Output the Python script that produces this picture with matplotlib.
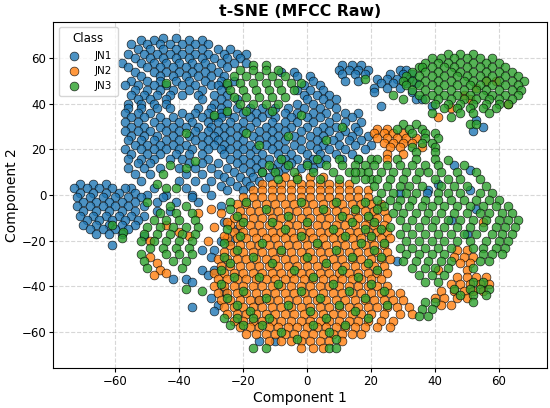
import matplotlib
matplotlib.use("Agg")
import matplotlib.pyplot as plt
import numpy as np

# points, grouped in rows: (y, [x, x, ...])
classes = ["JN1", "JN2", "JN3"]
colors = ["#1f77b4", "#ff7f0e", "#2ca02c"]

jn1_rows = [
    # top-left cluster
    (69, [-45, -41]),
    (68, [-52, -48, -37, -33]),
    (66, [-55, -50, -46, -43, -39, -35, -31]),
    (64, [-53, -49, -45, -41, -37, -33, -28, -24]),
    (62, [-56, -51, -47, -43, -39, -35, -31, -26, -22, -19]),
    (60, [-54, -49, -45, -41, -37, -33, -29, -25, -21]),
    (58, [-58, -52, -48, -44, -40, -36, -32, -27, -23, -19]),
    (56, [-56, -50, -46, -42, -38, -34, -30, -25]),
    (54, [-54, -48, -44, -40, -36, -32, -28, -8, -4]),
    (52, [-52, -46, -42, -38, -34, -30, -26, -3, 1]),
    (50, [-55, -50, -46, -41, -37, -32, -27, -23, 2]),
    (48, [-57, -53, -48, -44, -39, -35, -30, -28, -25, -1, 4]),
    (46, [-54, -50, -46, -42, -37, -33, -27, -3, 1, 5]),
    (44, [-55, -51, -47, -43, -39, -34, -29, -25, -1, 3, 7]),
    (42, [-53, -49, -44, -33, -27, -22, 0, 5, 9]),
    (40, [-56, -52, -48, -44, -29, -25, -3, 2, 7]),
    # left-middle block and centre
    (38, [-56, -52, -47, -43, -34, -30, -27, -22, -18, -14, -10, -6, -1, 4, 9]),
    (36, [-57, -53, -49, -39, -35, -31, -27, -25, -20, -16, -12, -7, -3, 2, 6, 12, 16]),
    (34, [-55, -51, -46, -42, -37, -33, -29, -27, -23, -18, -14, -10, -5, 0, 4, 9, 14]),
    (32, [-57, -53, -48, -44, -40, -36, -31, -28, -24, -20, -16, -11, -7, -3, 2, 7, 12, 17]),
    (30, [-55, -51, -46, -42, -38, -34, -30, -26, -22, -18, -13, -9, -5, 0, 5, 9, 15]),
    (28, [-57, -53, -49, -44, -40, -35, -31, -28, -24, -20, -15, -11, -7, -2, 3, 7, 12, 16]),
    (26, [-55, -51, -47, -42, -37, -33, -29, -26, -22, -17, -13, -9, -4, 1, 5, 10, 14, 19]),
    (24, [-56, -52, -48, -44, -40, -35, -31, -28, -24, -20, -15, -11, -7, -2, 3, 8, 13, 17]),
    (22, [-54, -50, -46, -42, -38, -33, -29, -26, -22, -18, -13, -9, -4, 1, 5, 10, 15, 20]),
    (20, [-57, -52, -48, -44, -40, -36, -31, -27, -24, -20, -16, -11, -7, -2, 3, 7, 12, 18]),
    (18, [-55, -50, -46, -41, -37, -33, -26, -22, -18, -14, -9, -5, 0, 4, 9, 14]),
    (16, [-56, -52, -48, -43, -39, -31, -24, -20, -16, -12, -7, -3, 2, 6, 11, 16]),
    (14, [-53, -49, -37, -33, -28, -22, -18, -14, -9, -5, 0, 4]),
    (12, [-56, -51, -46, -40, -35, -30, -25, -20, -16, -11, -7, -2, 2]),
    (10, [-23, -18, -14, -9]),
    (9, [-54, -49, -38, -33, -28]),
    (8, [-26, -21, -17, -12]),
    (6, [-52, -40, -35, -30, -24, -19, -15]),
    (4, [-27, -22, -18]),
    (3, [-55, -48, -38, -32]),
    (2, [-25, -20]),
    (0, [-50, -44, -36, -30]),
    (-3, [-47, -41, -34]),
    # top-right small cluster and trail
    (57, [11, 14, 17]),
    (55, [10, 13, 16, 19, 29, 31]),
    (53, [11, 15, 18, 26, 30, 33]),
    (51, [22, 25, 28, 32]),
    (50, [12, 16]),
    (49, [23, 27, 31, 34]),
    (47, [21, 25, 29]),
    (45, [21, 33]),
    (42, [34, 36]),
    (39, [23, 39]),
    # inside the right green region
    (33, [53]), (30, [55]), (28, [52]),
    (13, [46]), (11, [51]), (5, [41]), (2, [38, 51]), (1, [29, 37.5]),
    (-6, [53]), (-11, [45]), (-17, [50]), (-29, [28]),
    # far-left blob
    (5, [-71, -67, -63]),
    (3, [-73, -69, -65, -61, -57]),
    (1, [-71, -67, -63, -59, -54]),
    (-1, [-72, -68, -64, -60, -56, -52, -45, -36]),
    (-3, [-70, -66, -62, -58, -54]),
    (-5, [-72, -68, -64, -60, -56, -51]),
    (-7, [-70, -66, -62, -58, -54, -47, -43]),
    (-9, [-71, -67, -63, -59, -55, -51]),
    (-11, [-69, -65, -61, -57, -53]),
    (-13, [-70, -66, -62, -58, -54]),
    (-15, [-68, -64, -60, -56]),
    (-17, [-66, -62, -58]),
    (-22, [-61]),
    # lower-left scatter
    (-18, [-51]), (-24, [-33, -29]), (-27, [-30]), (-33, [-33, -29]),
    (-35, [-31]), (-37, [-42, -38]), (-38, [-36]), (-45, [-30]),
    (-48, [-28]), (-49, [-36]), (-51, [-29]), (-64, [-15, -10]),
    (-42, [-26]), (-20, [-27, -24]), (-12, [-26]), (-5, [-27]),
    (-15, [-22]), (-46, [-15]),
]

jn2_rows = [
    # main blob
    (8, [-7, -3, 1, 5]),
    (5, [-14, -11, -8, -5, -2, 1, 4, 7, 10, 13]),
    (2, [-17, -14, -11, -8, -5, -2, 1, 4, 7, 10, 13, 16, 19]),
    (-1, [-20, -17, -14, -11, -8, -5, -2, 1, 4, 7, 10, 13, 16, 19]),
    (-4, [-22, -19, -16, -13, -10, -7, -4, -1, 2, 5, 8, 11, 14, 17, 20, 23]),
    (-7, [-21, -18, -15, -12, -9, -6, -3, 0, 3, 6, 9, 12, 15, 18, 21, 24]),
    (-10, [-23, -20, -17, -14, -11, -8, -5, -2, 1, 4, 7, 10, 13, 16, 19, 22, 25]),
    (-13, [-24, -21, -18, -15, -12, -9, -6, -3, 0, 3, 6, 9, 12, 15, 18, 21, 24]),
    (-16, [-23, -20, -17, -14, -11, -8, -5, -2, 1, 4, 7, 10, 13, 16, 19, 22, 25]),
    (-19, [-25, -22, -19, -16, -13, -10, -7, -4, -1, 2, 5, 8, 11, 14, 17, 20, 23, 26]),
    (-22, [-24, -21, -18, -15, -12, -9, -6, -3, 0, 3, 6, 9, 12, 15, 18, 21, 24]),
    (-25, [-26, -23, -20, -17, -14, -11, -8, -5, -2, 1, 4, 7, 10, 13, 16, 19, 22, 25]),
    (-28, [-28, -25, -22, -19, -16, -13, -10, -7, -4, -1, 2, 5, 8, 11, 14, 17, 20, 23, 26]),
    (-31, [-27, -24, -21, -18, -15, -12, -9, -6, -3, 0, 3, 6, 9, 12, 15, 18, 21, 24]),
    (-34, [-29, -26, -23, -20, -17, -14, -11, -8, -5, -2, 1, 4, 7, 10, 13, 16, 19, 22, 25]),
    (-37, [-28, -25, -22, -19, -16, -13, -10, -7, -4, -1, 2, 5, 8, 11, 14, 17, 20, 23]),
    (-40, [-29, -26, -23, -20, -17, -14, -11, -8, -5, -2, 1, 4, 7, 10, 13, 16, 19, 22, 25]),
    (-43, [-28, -25, -22, -19, -16, -13, -10, -7, -4, -1, 2, 5, 8, 11, 14, 17, 20, 23, 26, 29]),
    (-46, [-27, -24, -21, -18, -15, -12, -9, -6, -3, 0, 3, 6, 9, 12, 15, 18, 21, 24, 27, 30]),
    (-49, [-26, -23, -20, -17, -14, -11, -8, -5, -2, 1, 4, 7, 10, 13, 16, 19, 22, 25, 28, 32]),
    (-52, [-25, -22, -19, -16, -13, -10, -7, -4, -1, 2, 5, 8, 11, 14, 17, 20, 24, 29, 33]),
    (-55, [-23, -20, -17, -14, -11, -8, -5, -2, 1, 4, 7, 10, 13, 16, 19, 23, 27]),
    (-58, [-21, -18, -15, -12, -9, -6, -3, 0, 3, 6, 9, 12, 15, 18, 22, 26]),
    (-61, [-19, -16, -13, -10, -7, -4, -1, 2, 5, 8, 11, 14, 17]),
    (-64, [-12, -8, -5, -2, 1, 4, 7, 11]),
    (-67, [-2, 2, 5]),
    # right band
    (-24, [47, 50]),
    (-27, [46, 49, 52]),
    (-30, [48, 51]),
    (-33, [50, 41]),
    (-36, [47, 50, 53, 56]),
    (-39, [45, 48, 51, 54, 57]),
    (-42, [42, 46, 49, 52, 55]),
    (-45, [40, 43, 47, 50]),
    (-48, [42, 45]),
    (-12, [55]),
    # upper-middle cluster
    (29, [22, 25]),
    (27, [21, 24, 27, 30]),
    (25, [22, 25, 28, 31, 34]),
    (23, [24, 27, 30, 33]),
    (21, [26, 29, 36]),
    (18, [25, 30]),
    (16, [25]),
    # inside top-right green cluster
    (34, [41]), (38, [45]), (42, [51]), (50, [56, 59]), (40, [63]),
    (44, [49]), (47, [53]),
    # inside left green cluster
    (-27, [-49]), (-30, [-47]), (-33, [-46]), (-35, [-48]), (-34, [-44]),
    (-13, [-44]), (-16, [-40]), (-18, [-37]), (-20, [-49]),
    (-6, [-30]), (-8, [-27, -34]), (-12, [-25]), (-14, [-29]),
    (-18, [-26]), (-20, [-31]),
]

jn3_rows = [
    # top-centre blob
    (57, [-17, -13]),
    (55, [-21, -17, -13, -9]),
    (52, [-23, -19, -15, -11, -7]),
    (49, [-25, -21, -17, -13, -9, -5, -2]),
    (46, [-24, -20, -16, -12, -8, -4]),
    (43, [-23, -19, -15, -11, -7]),
    (40, [-21, -17, -13, -9]),
    (37, [-25, -19, -11]),
    # top-right cluster
    (62, [44, 48, 52]),
    (60, [39, 42, 46, 50, 54, 58]),
    (58, [37, 41, 44, 48, 52, 56, 60]),
    (56, [35, 36, 39, 43, 46, 50, 54, 58, 62]),
    (54, [33, 37, 41, 45, 48, 52, 56, 60, 64]),
    (52, [31, 35, 39, 43, 47, 50, 54, 58, 62, 66]),
    (50, [30, 33, 37, 41, 45, 49, 52, 56, 60, 64, 68]),
    (48, [31, 35, 39, 43, 47, 51, 54, 58, 62, 66]),
    (46, [33, 37, 41, 45, 49, 53, 56, 60, 64, 67]),
    (44, [27, 35, 39, 43, 47, 51, 55, 58, 62, 66]),
    (42, [30, 37, 41, 45, 49, 53, 57, 60, 64]),
    (40, [40, 44, 48, 52, 56, 60, 63]),
    (38, [43, 47, 51, 55, 59]),
    (36, [39, 48, 52, 57]),
    (34, [45]),
    (31, [51, 53]),
    # mid-right cluster
    (31, [30, 34]),
    (29, [28, 32, 36]),
    (27, [33, 37, 40]),
    (25, [37, 41]),
    (23, [36, 39]),
    (21, [33, 40]),
    (19, [34, 40]),
    (15.5, [44]),
    # upper band above the orange blob
    (16, [-8, 3, 10, 16, 20]),
    (13, [-12, -6, 0, 6, 11, 15]),
    (10, [-14, -10, -4, 2, 8, 13, 17]),
    (7, [-9, -3, 4, 10, 15, 20]),
    # right region
    (16, [22, 28, 34, 40]),
    (13, [18, 21, 25, 29, 33, 37, 41, 49]),
    (10, [15, 19, 23, 27, 31, 35, 38, 42, 47, 53]),
    (7, [18, 22, 26, 30, 34, 40, 44, 48, 54]),
    (4, [21, 25, 29, 32, 36, 42, 46, 50, 56]),
    (1, [23, 27, 31, 34, 41, 44, 48, 54, 58]),
    (-2, [22, 26, 29, 33, 37, 41, 45, 49, 53, 57, 60]),
    (-5, [24, 28, 32, 36, 39, 43, 47, 51, 55, 59, 63]),
    (-8, [27, 30, 34, 38, 42, 46, 50, 54, 57, 61, 64]),
    (-11, [29, 33, 37, 40, 44, 48, 52, 56, 60, 63, 66]),
    (-14, [26, 31, 35, 39, 43, 47, 51, 55, 59, 62, 65]),
    (-17, [29, 33, 37, 41, 45, 49, 53, 58, 61, 64]),
    (-20, [31, 35, 39, 43, 47, 51, 56, 60, 63]),
    (-23, [29, 33, 37, 41, 45, 52, 55, 59, 62]),
    (-26, [31, 35, 39, 43, 55, 58, 61]),
    (-29, [30, 34, 38, 42, 45, 54, 57]),
    (-32, [33, 37, 40, 44, 52]),
    (-35, [35, 39, 43]),
    (-38, [37, 41, 52, 55]),
    (-41, [46, 51, 54, 57]),
    (-44, [48, 52, 56]),
    (-47, [37, 40, 52]),
    (-50, [36, 39]),
    (-53, [35, 38]),
    # scattered inside the orange blob
    (-3, [-24, -19, -2, 9, 18]),
    (-6, [-24, -13, 5, 15, 22]),
    (-9, [-22, -6, 11, 19]),
    (-12, [-20, -11, 0, 14, 21]),
    (-15, [-25, -7, 8, 18, 23]),
    (-18, [-21, -2, 12, 20]),
    (-21, [-26, -14, 3, 17, 24]),
    (-24, [-22, -8, 9, 21]),
    (-27, [-26, -17, 0, 14, 23]),
    (-30, [-24, -11, 6, 19]),
    (-33, [-27, -4, 11, 22]),
    (-36, [-23, -15, 2, 16]),
    (-39, [-27, -9, 8, 20]),
    (-42, [-20, -2, 13, 24]),
    (-45, [-25, -13, 4, 18]),
    (-48, [-22, -6, 10, 25]),
    (-51, [-18, 1, 15]),
    (-54, [-26, -22, -17, -12, 6, 19]),
    (-57, [-24, -20, -14, 2, 12]),
    (-60, [-8, 7]),
    (-63, [-3, 9]),
    (-67, [-17, -13, 7, 9]),
    # left cluster
    (-3, [-50]),
    (-5, [-43, -38]),
    (-8, [-46, -41, -36]),
    (-11, [-48, -44, -40, -35]),
    (-14, [-50, -46, -42, -38, -34]),
    (-17, [-51, -47, -43, -39, -35]),
    (-20, [-52, -48, -44, -40, -36]),
    (-23, [-49, -45, -41, -37]),
    (-26, [-52, -44, -40, -36]),
    (-29, [-51, -42, -38]),
    (-32, [-50, -39]),
    (-41, [-38]),
    (-42, [-33]),
    (-13, [-61]), (-16, [-57.5]), (-19, [-58]),
    # scattered among blue
    (49, [-44]), (35, [-29]), (27, [-38]), (15, [-35]), (13, [-43]),
    (9, [-45]), (5, [-47]), (3, [-44, -41]), (12, [-38]),
    (27, [-19]), (22, [-15]), (26, [-6]), (24, [6]), (30, [11]),
    (35, [-2]), (51, [18]),
]


def flatten(rows):
    xs, ys = [], []
    for y, row in rows:
        xs += list(row)
        ys += [y] * len(row)
    return np.array(xs, dtype=float), np.array(ys, dtype=float)


fig, ax = plt.subplots(figsize=(5.5, 4.08), dpi=100)
fig.subplots_adjust(left=0.097, right=0.994, top=0.946, bottom=0.098)

for name, rows, c in zip(classes, [jn1_rows, jn2_rows, jn3_rows], colors):
    x, y = flatten(rows)
    ax.scatter(x, y, s=40, c=c, alpha=0.8, edgecolors="k", linewidths=0.5, label=name)

ax.set_xlim(-79.4, 75)
ax.set_ylim(-75.8, 75.8)
ax.set_xticks([-60, -40, -20, 0, 20, 40, 60])
ax.set_yticks([-60, -40, -20, 0, 20, 40, 60])
ax.tick_params(labelsize=8.5, length=3, pad=2)
ax.grid(True, linestyle="--", alpha=0.5)
ax.set_axisbelow(True)

ax.set_title("t-SNE (MFCC Raw)", fontsize=11.3, fontweight="bold", pad=4)
ax.set_xlabel("Component 1", fontsize=10, labelpad=2)
ax.set_ylabel("Component 2", fontsize=10, labelpad=2)
ax.legend(title="Class", loc="upper left", fontsize=7.5, title_fontsize=8.5,
          handletextpad=1.0, borderpad=0.5)

fig.savefig("out.png", dpi=100)
